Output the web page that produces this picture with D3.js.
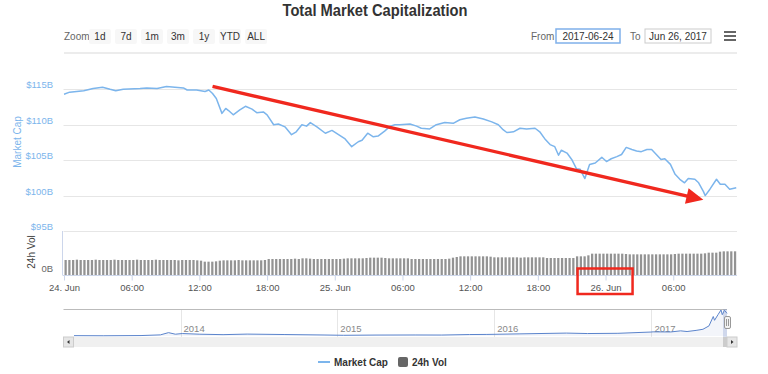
<!DOCTYPE html>
<html>
<head>
<meta charset="utf-8">
<script src="https://cdn.jsdelivr.net/npm/d3@7"></script>
<style>
  html, body { margin: 0; padding: 0; background: #fff; }
  svg { display: block; font-family: "Liberation Sans", Arial, sans-serif; }
</style>
</head>
<body>
<div id="chart"></div>
<script>
// --- data ---
const capTimes = [
  "2017-06-24 00:00","2017-06-24 00:30","2017-06-24 01:45","2017-06-24 02:35","2017-06-24 03:25","2017-06-24 04:05",
  "2017-06-24 04:35","2017-06-24 05:15","2017-06-24 06:45","2017-06-24 07:20","2017-06-24 08:15","2017-06-24 09:05",
  "2017-06-24 09:50","2017-06-24 10:35","2017-06-24 10:55","2017-06-24 11:45","2017-06-24 12:30","2017-06-24 12:50",
  "2017-06-24 13:10","2017-06-24 13:30","2017-06-24 14:00","2017-06-24 14:20","2017-06-24 14:35","2017-06-24 15:00",
  "2017-06-24 15:35","2017-06-24 16:05","2017-06-24 16:40","2017-06-24 17:05","2017-06-24 17:40","2017-06-24 18:00",
  "2017-06-24 18:35","2017-06-24 19:00","2017-06-24 19:35","2017-06-24 20:10","2017-06-24 20:35","2017-06-24 21:05",
  "2017-06-24 21:30","2017-06-24 21:50","2017-06-24 22:25","2017-06-24 23:10","2017-06-24 23:45",
  "2017-06-25 00:20","2017-06-25 00:55","2017-06-25 01:30","2017-06-25 02:05","2017-06-25 02:25","2017-06-25 02:55",
  "2017-06-25 03:25","2017-06-25 03:50","2017-06-25 04:25","2017-06-25 04:55","2017-06-25 05:20","2017-06-25 05:45",
  "2017-06-25 06:40","2017-06-25 07:15","2017-06-25 07:40","2017-06-25 08:25","2017-06-25 09:00","2017-06-25 09:45",
  "2017-06-25 10:30","2017-06-25 11:05","2017-06-25 11:40","2017-06-25 12:25","2017-06-25 13:10","2017-06-25 13:55",
  "2017-06-25 14:30","2017-06-25 14:55","2017-06-25 15:15","2017-06-25 15:50","2017-06-25 16:25","2017-06-25 17:00",
  "2017-06-25 17:45","2017-06-25 18:10","2017-06-25 18:40","2017-06-25 19:05","2017-06-25 19:30","2017-06-25 19:50",
  "2017-06-25 20:05","2017-06-25 20:35","2017-06-25 21:00","2017-06-25 21:25","2017-06-25 21:45","2017-06-25 22:10",
  "2017-06-25 22:35","2017-06-25 23:05","2017-06-25 23:40",
  "2017-06-26 00:05","2017-06-26 00:30","2017-06-26 01:00","2017-06-26 01:25","2017-06-26 01:50","2017-06-26 02:20",
  "2017-06-26 02:45","2017-06-26 03:10","2017-06-26 03:40","2017-06-26 04:05","2017-06-26 04:30","2017-06-26 04:55",
  "2017-06-26 05:15","2017-06-26 05:45","2017-06-26 06:10","2017-06-26 06:35","2017-06-26 07:00","2017-06-26 07:20",
  "2017-06-26 07:55","2017-06-26 08:15","2017-06-26 08:40","2017-06-26 08:50","2017-06-26 09:15","2017-06-26 09:50",
  "2017-06-26 10:10","2017-06-26 10:35","2017-06-26 11:00","2017-06-26 11:35"
];
// market cap, $B
const capValues = [
  114.3,114.6,114.8,115.1,115.3,115.0,114.8,115.0,115.1,115.2,115.1,115.4,
  115.3,115.2,114.9,114.9,114.7,114.9,114.4,113.7,111.6,112.3,112.0,111.4,
  112.1,112.6,112.2,111.7,111.8,111.4,110.0,110.1,109.7,108.6,109.0,110.0,
  109.8,110.3,109.7,108.8,109.2,
  108.6,108.0,106.9,107.6,107.8,108.8,108.3,108.4,109.1,109.8,110.0,110.0,
  110.1,109.8,109.5,109.4,110.0,110.3,110.2,110.7,110.9,111.1,110.8,110.4,
  110.0,109.3,108.9,109.0,109.5,109.4,109.5,109.0,107.9,107.2,106.9,105.7,
  106.4,106.0,105.1,103.8,103.7,102.4,104.4,104.6,105.4,
  104.8,105.2,105.5,105.8,106.8,106.5,106.3,106.2,106.5,106.5,105.8,105.1,
  105.2,104.4,103.0,102.3,101.8,102.4,102.3,101.8,100.6,100.0,100.9,102.3,
  101.6,101.6,100.9,101.1
];

// 24h volume, $B, one bar every 20 minutes from the start
const volStart = "2017-06-24 00:00";
const volStepMinutes = 20;
const volValues = [
  4.5,4.5,4.5,4.6,4.5,4.5,4.5,4.5,4.6,4.5,4.5,4.5,4.5,4.6,4.5,4.5,4.5,4.5,
  4.5,4.6,4.5,4.5,4.5,4.5,4.6,4.5,4.5,4.5,4.5,4.5,4.4,4.5,4.5,4.5,4.5,4.4,
  4.3,4.0,4.0,4.0,4.1,4.3,4.4,4.4,4.4,4.4,4.5,4.4,4.4,4.4,4.4,4.4,4.4,4.5,
  4.8,4.8,4.8,4.8,4.8,4.8,4.8,4.9,4.8,5.0,5.0,4.9,4.8,4.8,4.8,4.8,4.8,4.8,
  4.8,4.8,4.9,5.0,5.0,5.0,5.0,5.0,5.1,5.2,5.2,5.2,5.2,5.1,5.0,5.0,5.0,5.0,
  5.0,5.0,4.8,4.8,4.8,4.8,4.8,4.8,4.8,4.8,4.8,4.8,4.9,5.2,5.4,5.6,5.6,5.6,
  5.6,5.6,5.6,5.6,5.6,5.5,5.3,5.3,5.3,5.3,5.3,5.3,5.3,5.2,5.3,5.3,5.3,5.3,
  5.3,5.3,5.1,5.1,5.1,5.1,5.1,5.1,5.1,5.1,5.6,5.6,5.6,5.9,6.4,6.4,6.4,6.4,
  6.4,6.4,6.4,6.4,6.4,6.3,6.2,6.2,6.2,6.2,6.2,6.2,6.2,6.2,6.2,6.2,6.2,6.2,
  6.3,6.4,6.4,6.4,6.4,6.4,6.4,6.4,6.5,6.7,6.7,6.7,7.0,7.1,7.1,7.1,7.1
];

// navigator: whole history, $B
const navDates = [
  "2013-04-28","2013-07-05","2013-10-01","2013-11-15","2013-12-04","2013-12-20","2014-01-05",
  "2014-02-15","2014-04-10","2014-06-05","2014-09-01","2014-12-01","2015-01-15","2015-04-01",
  "2015-07-01","2015-09-01","2015-11-05","2015-12-15","2016-03-01","2016-06-17","2016-08-05",
  "2016-10-15","2016-12-31","2017-01-05","2017-02-15","2017-03-10","2017-03-25","2017-04-15",
  "2017-05-01","2017-05-15","2017-05-25","2017-05-28","2017-06-05","2017-06-12","2017-06-15",
  "2017-06-20","2017-06-26"
];
const navValues = [
  1.6,1.1,2.0,5.0,15.0,8.0,11.0,
  8.0,6.0,8.5,6.5,4.5,3.2,4.2,
  4.6,4.3,6.5,7.0,9.5,13.0,11.0,
  12.0,17.7,18.5,18.0,23.0,20.0,25.0,
  30.0,45.0,87.0,70.0,95.0,116.0,95.0,
  115.0,101.0
];

const capTicks = [95, 100, 105, 110, 115];
const navYears = ["2014", "2015", "2016", "2017"];
const zoomButtons = ["1d", "7d", "1m", "3m", "1y", "YTD", "ALL"];
const fromDate = "2017-06-24";
const toDate = "Jun 26, 2017";
const xStart = "2017-06-24 00:00", xEnd = "2017-06-26 11:39";

// annotation drawn over the chart (time, value)
const arrowFrom = { t: "2017-06-24 13:10", v: 115.4 };
const arrowTo = { t: "2017-06-26 08:40", v: 99.4 };
const boxedTick = "2017-06-26 00:00";

// --- layout ---
const W = 768, H = 374;
const plotL = 63.5, plotR = 737;
const parseT = d3.timeParse("%Y-%m-%d %H:%M");
const parseD = d3.timeParse("%Y-%m-%d");

const x = d3.scaleTime().domain([parseT(xStart), parseT(xEnd)]).range([64, plotR]);
const y = d3.scaleLinear().domain([95, 115]).range([231, 89.3]);
const yVol = d3.scaleLinear().domain([0, 13.2]).range([275, 231]);
const xNav = d3.scaleTime().domain([parseD(navDates[0]), parseD(navDates[navDates.length - 1])]).range([74, 727]);
const yNav = d3.scaleLinear().domain([0, d3.max(navValues)]).range([336, 310]);

const svg = d3.select("#chart").append("svg").attr("width", W).attr("height", H);

// title
svg.append("text").attr("x", 375).attr("y", 16).attr("text-anchor", "middle")
  .attr("font-size", 17).attr("font-weight", "bold").attr("fill", "#333")
  .attr("textLength", 185).attr("lengthAdjust", "spacingAndGlyphs")
  .text("Total Market Capitalization");

// range selector
svg.append("text").attr("x", 64).attr("y", 40).attr("font-size", 10).attr("fill", "#666").text("Zoom");
const btnX = d3.scaleBand().domain(zoomButtons).range([89, 267]).paddingInner(0.16);
const btn = svg.append("g").selectAll("g").data(zoomButtons).join("g")
  .attr("transform", d => `translate(${btnX(d)},29)`);
btn.append("rect").attr("width", btnX.bandwidth()).attr("height", 15).attr("rx", 2).attr("fill", "#f7f7f7");
btn.append("text").attr("x", btnX.bandwidth() / 2).attr("y", 11).attr("text-anchor", "middle")
  .attr("font-size", 10).attr("fill", "#333").text(d => d);

svg.append("text").attr("x", 531).attr("y", 40).attr("font-size", 10).attr("fill", "#666").text("From");
svg.append("rect").attr("x", 556).attr("y", 29).attr("width", 64).attr("height", 14)
  .attr("fill", "#fff").attr("stroke", "#7fb0ea").attr("stroke-width", 1.5);
svg.append("text").attr("x", 588).attr("y", 40).attr("text-anchor", "middle").attr("font-size", 10).attr("fill", "#333").text(fromDate);
svg.append("text").attr("x", 630).attr("y", 40).attr("font-size", 10).attr("fill", "#666").text("To");
svg.append("rect").attr("x", 645).attr("y", 29).attr("width", 66).attr("height", 14)
  .attr("fill", "#fff").attr("stroke", "#ccc");
svg.append("text").attr("x", 678).attr("y", 40).attr("text-anchor", "middle").attr("font-size", 10).attr("fill", "#333").text(toDate);
// context menu icon
svg.append("g").selectAll("line").data([32, 36, 40]).join("line")
  .attr("x1", 724).attr("x2", 736).attr("y1", d => d).attr("y2", d => d)
  .attr("stroke", "#666").attr("stroke-width", 2);

svg.append("line").attr("x1", 64).attr("x2", plotR).attr("y1", 53).attr("y2", 53)
  .attr("stroke", "#e6e6e6").attr("stroke-width", 1.5);

// grid + y labels
svg.append("g").selectAll("line").data(capTicks).join("line")
  .attr("x1", plotL).attr("x2", plotR).attr("y1", d => Math.round(y(d)) + 0.5).attr("y2", d => Math.round(y(d)) + 0.5)
  .attr("stroke", "#e6e6e6");
svg.append("g").selectAll("text").data(capTicks).join("text")
  .attr("x", 53).attr("y", d => y(d) - 1).attr("text-anchor", "end")
  .attr("font-size", 9.5).attr("fill", "#7cb5ec").text(d => "$" + d + "B");
svg.append("text").attr("transform", "translate(21,142) rotate(-90)").attr("text-anchor", "middle")
  .attr("font-size", 10).attr("fill", "#7cb5ec").text("Market Cap");

// volume pane
svg.append("clipPath").attr("id", "plotclip").append("rect")
  .attr("x", plotL).attr("y", 60).attr("width", plotR - plotL).attr("height", 220);
const volStep = volStepMinutes * 60 * 1000;
const pitch = x(new Date(parseT(volStart).getTime() + volStep)) - x(parseT(volStart));
svg.append("g").attr("clip-path", "url(#plotclip)").selectAll("rect").data(volValues).join("rect")
  .attr("x", (d, i) => x(new Date(parseT(volStart).getTime() + i * volStep)) + 0.5)
  .attr("width", pitch - 1.5)
  .attr("y", d => yVol(d)).attr("height", d => yVol(0) - yVol(d))
  .attr("fill", "#939393");
svg.append("line").attr("x1", plotL - 1).attr("x2", plotL - 1).attr("y1", 231).attr("y2", 275).attr("stroke", "#ccd6eb");
svg.append("text").attr("transform", "translate(35,252) rotate(-90)").attr("text-anchor", "middle")
  .attr("font-size", 10).attr("fill", "#444").text("24h Vol");
svg.append("text").attr("x", 53).attr("y", 272).attr("text-anchor", "end").attr("font-size", 9.5).attr("fill", "#666").text("0B");

// x axis
const fmtDay = d3.timeFormat("%d. %b"), fmtHour = d3.timeFormat("%H:%M");
const xAxis = d3.axisBottom(x).ticks(d3.timeHour.every(6)).tickSize(5).tickPadding(4)
  .tickFormat(d => d.getHours() === 0 ? fmtDay(d) : fmtHour(d));
const gx = svg.append("g").attr("transform", "translate(0,275.5)").call(xAxis);
gx.select(".domain").attr("stroke", "#ccd6eb").attr("d", `M${plotL - 1},0H${plotR}`);
gx.selectAll(".tick line").attr("stroke", "#ccd6eb");
gx.selectAll(".tick text").attr("fill", "#555").attr("font-size", 9.5).attr("font-family", "Liberation Sans, Arial, sans-serif");

// market cap line
svg.append("path").datum(capValues).attr("clip-path", "url(#plotclip)")
  .attr("fill", "none").attr("stroke", "#7cb5ec").attr("stroke-width", 1.5).attr("stroke-linejoin", "round")
  .attr("d", d3.line().x((d, i) => x(parseT(capTimes[i]))).y(d => y(d)));

// navigator
svg.append("g").selectAll("line").data(navYears).join("line")
  .attr("x1", d => Math.round(xNav(parseD(d + "-01-01"))) + 0.5).attr("x2", d => Math.round(xNav(parseD(d + "-01-01"))) + 0.5)
  .attr("y1", 309).attr("y2", 337).attr("stroke", "#e6e6e6");
svg.append("g").selectAll("text").data(navYears).join("text")
  .attr("x", d => xNav(parseD(d + "-01-01")) + 3).attr("y", 332)
  .attr("font-size", 9.5).attr("fill", "#888").text(d => d);
svg.append("path").datum(navValues).attr("fill", "rgba(51,92,173,0.06)")
  .attr("d", d3.area().x((d, i) => xNav(parseD(navDates[i]))).y0(336).y1(d => yNav(d)));
svg.append("path").datum(navValues).attr("fill", "none").attr("stroke", "#5b84cc").attr("stroke-width", 1)
  .attr("d", d3.line().x((d, i) => xNav(parseD(navDates[i]))).y(d => yNav(d)));
svg.append("line").attr("x1", plotL).attr("x2", 727).attr("y1", 309.5).attr("y2", 309.5).attr("stroke", "#bbb");
svg.append("rect").attr("x", 723).attr("y", 309).attr("width", 4).attr("height", 28).attr("fill", "rgba(102,133,194,0.25)");
svg.append("rect").attr("x", 724.5).attr("y", 316.5).attr("width", 6).attr("height", 12).attr("rx", 1.5)
  .attr("fill", "#f2f2f2").attr("stroke", "#999");
svg.append("g").selectAll("line").data([726.5, 728.5]).join("line")
  .attr("x1", d => d).attr("x2", d => d).attr("y1", 319).attr("y2", 326).attr("stroke", "#999");

// scrollbar
svg.append("rect").attr("x", plotL).attr("y", 337).attr("width", plotR - plotL).attr("height", 10).attr("fill", "#f0f0f0");
svg.append("rect").attr("x", plotL).attr("y", 337).attr("width", 10).attr("height", 10).attr("fill", "#e6e6e6").attr("stroke", "#ccc");
svg.append("rect").attr("x", plotR - 10).attr("y", 337).attr("width", 10).attr("height", 10).attr("fill", "#e6e6e6").attr("stroke", "#ccc");
svg.append("rect").attr("x", 723).attr("y", 337).attr("width", 4).attr("height", 10).attr("fill", "#ccc");
svg.append("path").attr("d", `M${plotL + 6},340L${plotL + 3.5},342L${plotL + 6},344Z`).attr("fill", "#333");
svg.append("path").attr("d", `M${plotR - 6},340L${plotR - 3.5},342L${plotR - 6},344Z`).attr("fill", "#333");

// legend
svg.append("line").attr("x1", 318).attr("x2", 330).attr("y1", 362).attr("y2", 362).attr("stroke", "#7cb5ec").attr("stroke-width", 2);
svg.append("text").attr("x", 334).attr("y", 366).attr("font-size", 10).attr("font-weight", "bold").attr("fill", "#333").text("Market Cap");
svg.append("rect").attr("x", 398).attr("y", 357).attr("width", 10).attr("height", 10).attr("rx", 2).attr("fill", "#666");
svg.append("text").attr("x", 412).attr("y", 366).attr("font-size", 10).attr("font-weight", "bold").attr("fill", "#333").text("24h Vol");

// red annotation: arrow + box round a tick label
const red = "#f0281e";
const p0 = [x(parseT(arrowFrom.t)), y(arrowFrom.v)], p1 = [x(parseT(arrowTo.t)), y(arrowTo.v)];
const len = Math.hypot(p1[0] - p0[0], p1[1] - p0[1]);
const ux = (p1[0] - p0[0]) / len, uy = (p1[1] - p0[1]) / len;
svg.append("line").attr("x1", p0[0]).attr("y1", p0[1])
  .attr("x2", p1[0] - ux * 12).attr("y2", p1[1] - uy * 12)
  .attr("stroke", red).attr("stroke-width", 3.3);
const bx = p1[0] - ux * 17, by = p1[1] - uy * 17;
svg.append("path").attr("fill", red)
  .attr("d", `M${p1[0]},${p1[1]}L${bx - uy * 8},${by + ux * 8}L${bx + uy * 8},${by - ux * 8}Z`);
const tx = x(parseT(boxedTick));
svg.append("rect").attr("x", tx - 28).attr("y", 268.5).attr("width", 55).attr("height", 25.5)
  .attr("fill", "none").attr("stroke", red).attr("stroke-width", 2.5);
</script>
</body>
</html>
